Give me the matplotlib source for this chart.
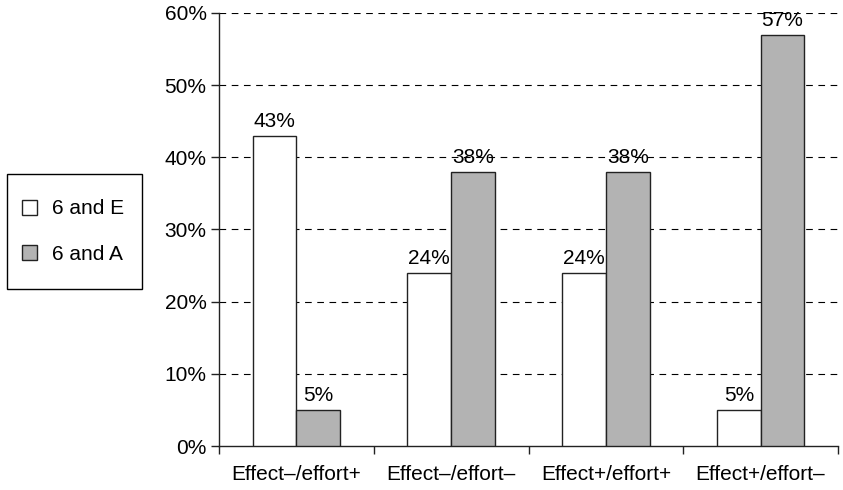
import numpy as np
import matplotlib
matplotlib.use("Agg")
import matplotlib.pyplot as plt
from matplotlib.patches import Patch, Rectangle

plt.rcParams['font.family'] = ['Liberation Sans', 'DejaVu Sans']

categories = ['Effect\u2013/effort+', 'Effect\u2013/effort\u2013', 'Effect+/effort+', 'Effect+/effort\u2013']
six_and_e = [43, 24, 24, 5]
six_and_a = [5, 38, 38, 57]
series_names = ['6 and E', '6 and A']
y_ticks = [0, 10, 20, 30, 40, 50, 60]

fs = 15
W, H = 843, 490
fig = plt.figure(figsize=(W/100, H/100), dpi=100)
ax = fig.add_axes([219/W, 1 - 446/H, (838 - 219)/W, (446 - 13)/H])

x = np.arange(len(categories))
w = 0.282
edge = '#222222'
b1 = ax.bar(x - w/2, six_and_e, w, color='white', edgecolor=edge, linewidth=1.0, zorder=3)
b2 = ax.bar(x + w/2, six_and_a, w, color='#b3b3b3', edgecolor=edge, linewidth=1.0, zorder=3)

for bars, vals in [(b1, six_and_e), (b2, six_and_a)]:
    for b, v in zip(bars, vals):
        ax.text(b.get_x() + b.get_width()/2, v + 1.25, f'{v}%', ha='center', va='baseline',
                fontsize=fs, zorder=4)

ax.set_xlim(-0.5, len(categories) - 0.5)
ax.set_ylim(0, 60)
ax.set_yticks(y_ticks)
ax.set_yticklabels([f'{t}%' for t in y_ticks], fontsize=fs)
for t in y_ticks[1:]:
    ax.axhline(t, color='black', linewidth=0.8, linestyle=(0, (6, 5)), zorder=1)

# category labels between boundary ticks
ax.set_xticks(np.arange(len(categories) + 1) - 0.5)
ax.set_xticklabels([])
ax.set_xticks(x, minor=True)
ax.set_xticklabels(categories, minor=True, fontsize=fs)
ax.tick_params(axis='x', which='minor', length=0, pad=14)
ax.tick_params(axis='x', which='major', length=6, width=1, color=edge)
ax.tick_params(axis='y', length=6, width=1, color=edge, pad=3)

for s in ['top', 'right']:
    ax.spines[s].set_visible(False)
for s in ['left', 'bottom']:
    ax.spines[s].set_color(edge)
    ax.spines[s].set_linewidth(1.0)

# legend: entries without frame, box drawn separately
handles = [Patch(facecolor='white', edgecolor=edge, linewidth=1.0),
           Patch(facecolor='#b3b3b3', edgecolor=edge, linewidth=1.0)]
leg = fig.legend(handles, series_names, loc='center left', bbox_to_anchor=(22/W, 1 - 231.5/H),
                 fontsize=fs, frameon=False, handlelength=0.72, handleheight=0.72,
                 labelspacing=1.25, borderpad=0, handletextpad=0.72, borderaxespad=0)
fig.add_artist(Rectangle((7/W, 1 - 289/H), 135/W, 115/H, transform=fig.transFigure,
                         fill=False, edgecolor='black', linewidth=1.0))

fig.savefig('out.png', dpi=100)
